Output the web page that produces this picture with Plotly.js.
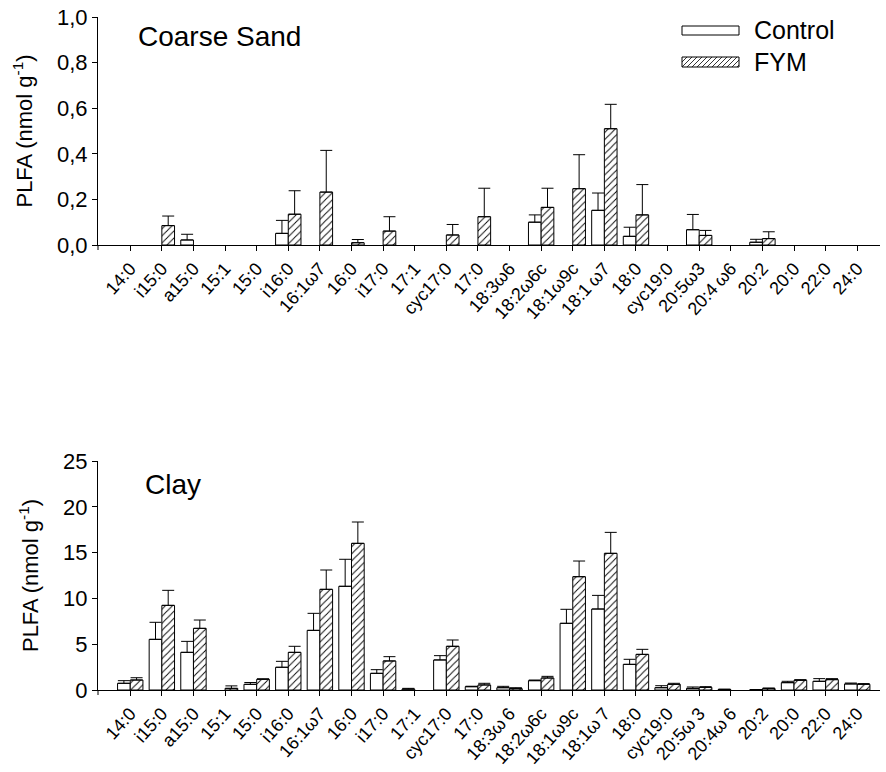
<!DOCTYPE html>
<html>
<head>
<meta charset="utf-8">
<script src="https://cdn.plot.ly/plotly-3.0.1.min.js"></script>
<style>html,body{margin:0;padding:0;background:#fff}#chart{width:886px;height:772px}</style>
</head>
<body>
<div id="chart"></div>
<script>
// ---- data ----
const labelsTop = ["14:0","i15:0","a15:0","15:1","15:0","i16:0","16:1ω7","16:0","i17:0","17:1","cyc17:0","17:0","18:3ω6","18:2ω6c","18:1ω9c","18:1\u2009ω7","18:0","cyc19:0","20:5ω3","20:4\u2009ω6","20:2","20:0","22:0","24:0"];
const labelsBottom = ["14:0","i15:0","a15:0","15:1","15:0","i16:0","16:1ω7","16:0","i17:0","17:1","cyc17:0","17:0","18:3ω\u20096","18:2ω6c","18:1ω9c","18:1ω\u20097","18:0","cyc19:0","20:5ω\u20093","20:4ω\u20096","20:2","20:0","22:0","24:0"];

const sandControl   = [null,null,0.022,null,null,0.051,null,null,null,null,null,null,null,0.100,null,0.152,0.038,null,0.067,null,0.012,null,null,null];
const sandControlSE = [null,null,0.025,null,null,0.057,null,null,null,null,null,null,null,0.032,null,0.076,0.040,null,0.067,null,0.013,null,null,null];
const sandFYM       = [null,0.085,null,null,null,0.135,0.232,0.010,0.061,null,0.044,0.124,null,0.165,0.247,0.510,0.132,null,0.042,null,0.028,null,null,null];
const sandFYMSE     = [null,0.042,null,null,null,0.103,0.183,0.014,0.063,null,0.046,0.125,null,0.084,0.149,0.107,0.133,null,0.022,null,0.030,null,null,null];

const clayControl   = [0.73,5.53,4.11,null,0.62,2.48,6.51,11.32,1.82,0.10,3.28,0.36,0.25,1.02,7.28,8.84,2.80,0.25,0.18,0.05,0.03,0.80,0.95,0.66];
const clayControlSE = [0.29,1.86,1.20,null,0.20,0.65,1.86,2.95,0.40,0.08,0.47,0.05,0.15,0.07,1.53,1.49,0.55,0.22,0.15,0.05,0.02,0.15,0.29,0.10];
const clayFYM       = [1.09,9.24,6.73,0.18,1.17,4.11,10.99,16.01,3.17,null,4.77,0.55,0.15,1.31,12.37,14.92,3.89,0.62,0.29,null,0.15,1.06,1.13,0.62];
const clayFYMSE     = [0.25,1.64,0.91,0.27,0.05,0.66,2.11,2.33,0.47,null,0.69,0.18,0.10,0.18,1.71,2.29,0.55,0.11,0.07,null,0.07,0.07,0.11,0.08];

const seriesNames = ["Control","FYM"];

// ---- helpers ----
const W = 886, H = 772;
const px = x => x / W;
const py = y => 1 - y / H;
const idx = labelsTop.map((_, i) => i);
const zeros = idx.map(() => 0);
const FONT = '"Liberation Sans", Arial, Helvetica, sans-serif';

const ctrlMarker = {color: 'white', line: {color: 'black', width: 1}};
const fymMarker = {color: 'white', line: {color: 'black', width: 1},
  pattern: {shape: '/', fgcolor: 'black', bgcolor: 'white', size: 5, solidity: 0.18, fillmode: 'replace'}};
const err = (arr) => ({type: 'data', array: arr, arrayminus: zeros, symmetric: false, color: 'black', thickness: 1, width: 6});

const traces = [
  {type: 'bar', name: seriesNames[0], x: idx, y: sandControl, xaxis: 'x', yaxis: 'y', marker: ctrlMarker, error_y: err(sandControlSE), showlegend: false},
  {type: 'bar', name: seriesNames[1], x: idx, y: sandFYM, xaxis: 'x', yaxis: 'y', marker: fymMarker, error_y: err(sandFYMSE), showlegend: false},
  {type: 'bar', name: seriesNames[0], x: idx, y: clayControl, xaxis: 'x2', yaxis: 'y2', marker: ctrlMarker, error_y: err(clayControlSE), showlegend: false},
  {type: 'bar', name: seriesNames[1], x: idx, y: clayFYM, xaxis: 'x2', yaxis: 'y2', marker: fymMarker, error_y: err(clayFYMSE), showlegend: false}
];

const xDomain = [px(98), px(880)];
const xCommon = {
  range: [-1.02, 23.72], domain: xDomain, showline: true, linecolor: 'black', linewidth: 1,
  ticks: 'outside', ticklen: 5, tickwidth: 1, tickcolor: 'black', tickangle: -48,
  tickvals: idx, showgrid: false, zeroline: false, fixedrange: true,
  tickfont: {family: FONT, size: 18, color: 'black'}
};
const yCommon = {
  showline: true, linecolor: 'black', linewidth: 1, ticks: 'outside', ticklen: 5, tickwidth: 1, tickcolor: 'black',
  showgrid: false, zeroline: false, fixedrange: true,
  tickfont: {family: FONT, size: 22, color: 'black'},
  title: {text: 'PLFA (nmol g<sup>-1</sup>)', font: {family: FONT, size: 22, color: 'black'}, standoff: 18}
};

// legend drawn as shapes + annotations; corner ticks at the axes' origin
const lgX0 = 682, lgX1 = 739;
const shapes = [
  {type: 'line', xref: 'paper', yref: 'paper', x0: px(98), x1: px(98), y0: py(245), y1: py(250), line: {color: 'black', width: 1}},
  {type: 'line', xref: 'paper', yref: 'paper', x0: px(98), x1: px(98), y0: py(690), y1: py(695), line: {color: 'black', width: 1}},
  {type: 'rect', xref: 'paper', yref: 'paper', x0: px(lgX0), x1: px(lgX1), y0: py(35), y1: py(26), line: {color: 'black', width: 1}, fillcolor: 'white'},
  {type: 'rect', xref: 'paper', yref: 'paper', x0: px(lgX0), x1: px(lgX1), y0: py(67), y1: py(57), line: {color: 'black', width: 1}, fillcolor: 'white'}
];
let hatch = '';
for (let x = lgX0 - 10; x < lgX1; x += 5) {
  let xa = x, ya = 67, xb = x + 10, yb = 57;
  if (xa < lgX0) { ya = 67 - (lgX0 - xa); xa = lgX0; }
  if (xb > lgX1) { yb = 57 + (xb - lgX1); xb = lgX1; }
  if (xb > xa) hatch += `M${px(xa)},${py(ya)} L${px(xb)},${py(yb)} `;
}
shapes.push({type: 'path', xref: 'paper', yref: 'paper', path: hatch, line: {color: 'black', width: 0.8}});

const annotations = [
  {xref: 'paper', yref: 'paper', x: px(136), y: py(37), xanchor: 'left', yanchor: 'middle', showarrow: false, text: 'Coarse Sand', font: {family: FONT, size: 28, color: 'black'}},
  {xref: 'paper', yref: 'paper', x: px(143), y: py(484), xanchor: 'left', yanchor: 'middle', showarrow: false, text: 'Clay', font: {family: FONT, size: 28, color: 'black'}},
  {xref: 'paper', yref: 'paper', x: px(752), y: py(30), xanchor: 'left', yanchor: 'middle', showarrow: false, text: seriesNames[0], font: {family: FONT, size: 25, color: 'black'}},
  {xref: 'paper', yref: 'paper', x: px(752), y: py(62), xanchor: 'left', yanchor: 'middle', showarrow: false, text: seriesNames[1], font: {family: FONT, size: 25, color: 'black'}}
];

const layout = {
  width: W, height: H, margin: {l: 0, r: 0, t: 0, b: 0},
  paper_bgcolor: 'white', plot_bgcolor: 'white',
  separators: ',.',
  barmode: 'group', bargap: 0.197, bargroupgap: 0,
  font: {family: FONT, color: 'black'},
  showlegend: false,
  xaxis: Object.assign({}, xCommon, {anchor: 'y', ticktext: labelsTop}),
  xaxis2: Object.assign({}, xCommon, {anchor: 'y2', ticktext: labelsBottom}),
  yaxis: Object.assign({}, yCommon, {anchor: 'x', domain: [py(245), py(17)], range: [0, 1.0], tickvals: [0, 0.2, 0.4, 0.6, 0.8, 1.0], tickformat: '.1f'}),
  yaxis2: Object.assign({}, yCommon, {anchor: 'x2', domain: [py(690), py(461)], range: [0, 25], tickvals: [0, 5, 10, 15, 20, 25], tickformat: 'd'}),
  shapes: shapes,
  annotations: annotations
};

Plotly.newPlot('chart', traces, layout, {staticPlot: true, displayModeBar: false});
</script>
</body>
</html>
